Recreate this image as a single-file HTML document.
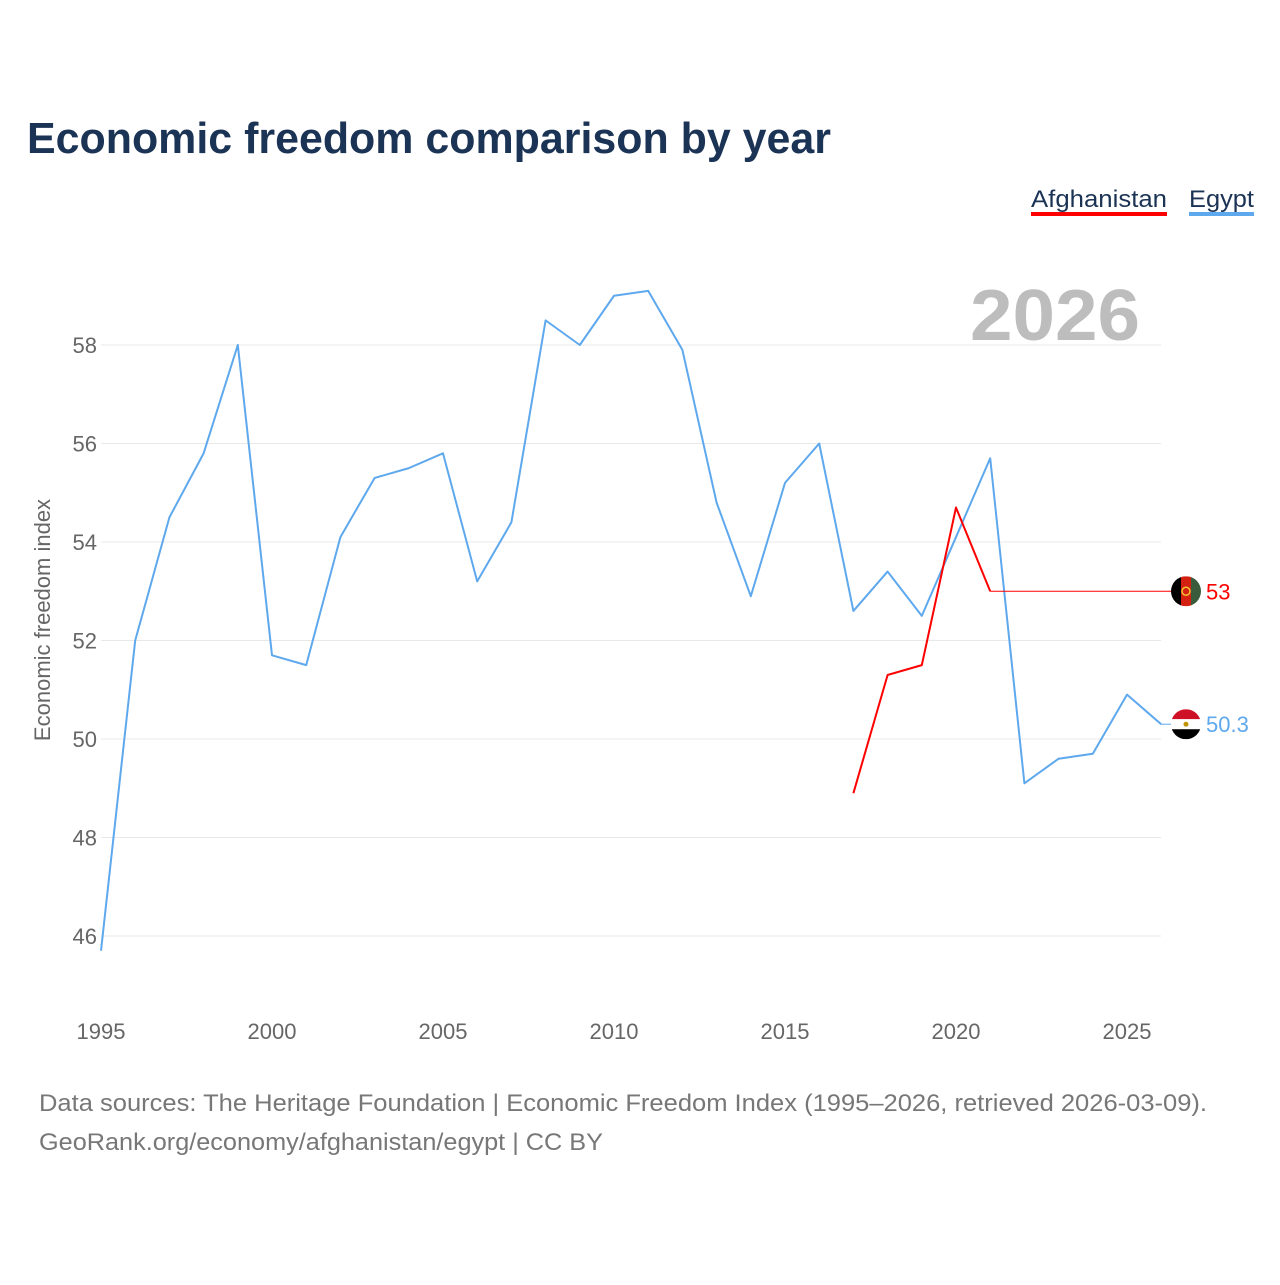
<!DOCTYPE html>
<html><head><meta charset="utf-8"><style>
body{margin:0;background:#fff;font-family:"Liberation Sans",sans-serif}
svg text{font-family:"Liberation Sans",sans-serif}
</style></head><body>
<svg id="c" width="1280" height="1280" viewBox="0 0 1280 1280">
<text x="27" y="153" font-size="44" font-weight="bold" fill="#1b3354" textLength="804" lengthAdjust="spacingAndGlyphs">Economic freedom comparison by year</text>
<g><text x="1031" y="207" font-size="24" fill="#1b3354" textLength="136" lengthAdjust="spacingAndGlyphs">Afghanistan</text><rect x="1031" y="212" width="136" height="4" fill="#ff0000"/></g>
<g><text x="1189" y="207" font-size="24" fill="#1b3354" textLength="65" lengthAdjust="spacingAndGlyphs">Egypt</text><rect x="1189" y="212" width="65" height="4" fill="#5ea8ed"/></g>
<text x="970" y="340" font-size="72" font-weight="bold" fill="#bdbdbd" textLength="170" lengthAdjust="spacingAndGlyphs">2026</text>
<text transform="translate(50,620) rotate(-90)" font-size="22" fill="#666" text-anchor="middle">Economic freedom index</text>
<g id="grid"></g><g id="xt"></g><g id="lines"></g>
<text x="39" y="1111" font-size="24" fill="#777" textLength="1168" lengthAdjust="spacingAndGlyphs">Data sources: The Heritage Foundation | Economic Freedom Index (1995–2026, retrieved 2026-03-09).</text>
<text x="39" y="1150" font-size="24" fill="#777" textLength="564" lengthAdjust="spacingAndGlyphs">GeoRank.org/economy/afghanistan/egypt | CC BY</text>
</svg>
<script>
const years=[1995,1996,1997,1998,1999,2000,2001,2002,2003,2004,2005,2006,2007,2008,2009,2010,2011,2012,2013,2014,2015,2016,2017,2018,2019,2020,2021,2022,2023,2024,2025,2026];
const egypt=[45.7,52.0,54.5,55.8,58.0,51.7,51.5,54.1,55.3,55.5,55.8,53.2,54.4,58.5,58.0,59.0,59.1,57.9,54.8,52.9,55.2,56.0,52.6,53.4,52.5,54.1,55.7,49.1,49.6,49.7,50.9,50.3];
const afgYears=[2017,2018,2019,2020,2021];
const afghanistan=[48.9,51.3,51.5,54.7,53.0];
const yTicks=[46,48,50,52,54,56,58];
const xTicks=[1995,2000,2005,2010,2015,2020,2025];
const NS="http://www.w3.org/2000/svg";
const X=y=>101+(y-1995)*34.2, Y=v=>345+(58-v)*49.25;
function mk(t,a,p){const e=document.createElementNS(NS,t);for(const k in a)e.setAttribute(k,a[k]);p.appendChild(e);return e;}
const grid=document.getElementById('grid'),xt=document.getElementById('xt'),L=document.getElementById('lines');
yTicks.forEach(v=>{
 const l=mk('line',{x1:101,x2:1161,y1:Y(v),y2:Y(v),stroke:'#e8e8e8','stroke-width':1},grid);
 
 
 const t=mk('text',{x:97,y:Y(v)+8,'font-size':22,fill:'#666','text-anchor':'end'},grid);t.textContent=v;
 
 
});
xTicks.forEach(v=>{
 const t=mk('text',{x:X(v),y:1039,'font-size':22,fill:'#666','text-anchor':'middle'},xt);t.textContent=v;
 
 
});
function line(ys,vals,col,name){
 const d=ys.map((y,i)=>(i?'L':'M')+X(y)+','+Y(vals[i])).join(' ');
 const p=mk('path',{d:d,fill:'none',stroke:col,'stroke-width':2,'stroke-linejoin':'round'},L);
 
 
 const lx=X(ys[ys.length-1]),ly=Y(vals[vals.length-1]);
 const e=mk('line',{x1:lx,x2:1176,y1:ly,y2:ly,stroke:col,'stroke-width':1},L);
 
 
}
line(years,egypt,'#5ea8ed','egypt');
line(afgYears,afghanistan,'#ff0000','afghanistan');
const ay=Y(afghanistan[afghanistan.length-1]),ey=Y(egypt[egypt.length-1]);
const fa=mk('g',{},L);


const ca=mk('clipPath',{id:'ac'},fa);mk('circle',{cx:1186,cy:ay,r:15},ca);
const g1=mk('g',{'clip-path':'url(#ac)'},fa);
mk('rect',{x:1171,y:ay-15,width:10,height:30,fill:'#000'},g1);
mk('rect',{x:1181,y:ay-15,width:10,height:30,fill:'#d32011'},g1);
mk('rect',{x:1191,y:ay-15,width:10,height:30,fill:'#3b5c3c'},g1);
mk('circle',{cx:1186,cy:ay,r:4,fill:'none',stroke:'#f4c430','stroke-width':1.5},g1);
const ta=mk('text',{x:1206,y:ay+8,'font-size':22,fill:'#ff0000'},L);ta.textContent=afghanistan[afghanistan.length-1];


const fe=mk('g',{},L);


const cp=mk('clipPath',{id:'ec'},fe);mk('circle',{cx:1186,cy:ey,r:15},cp);
const g2=mk('g',{'clip-path':'url(#ec)'},fe);
mk('rect',{x:1171,y:ey-15,width:30,height:10,fill:'#ce1126'},g2);
mk('rect',{x:1171,y:ey-5,width:30,height:10,fill:'#fff'},g2);
mk('rect',{x:1171,y:ey+5,width:30,height:10,fill:'#000'},g2);
mk('circle',{cx:1186,cy:ey,r:2.5,fill:'#c09300'},g2);
const te=mk('text',{x:1206,y:ey+8,'font-size':22,fill:'#5ea8ed'},L);te.textContent=egypt[egypt.length-1];


</script>
</body></html>
